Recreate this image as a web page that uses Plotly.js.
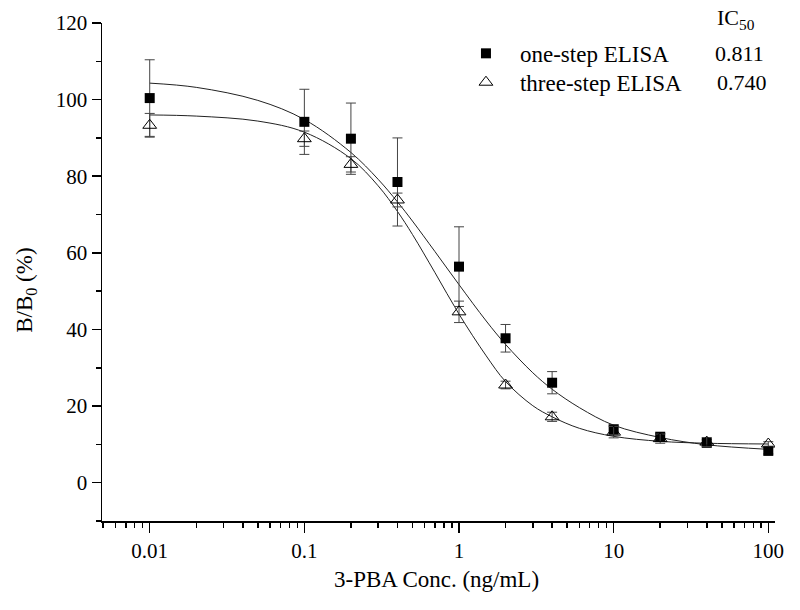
<!DOCTYPE html>
<html>
<head>
<meta charset="utf-8">
<script src="https://cdn.plot.ly/plotly-3.0.1.min.js"></script>
<style>
  html, body { margin: 0; padding: 0; background: #ffffff; }
  #chart { width: 800px; height: 610px; }
</style>
</head>
<body>
<div id="chart"></div>
<script>
// Concentrations (ng/mL)
const conc = [0.01, 0.1, 0.2, 0.4, 1, 2, 4, 10, 20, 40, 100];
// One-step ELISA B/B0 (%) and SD
const oneStep    = [100.4, 94.2, 89.8, 78.5, 56.4, 37.7, 26.1, 13.9, 12.0, 10.4, 8.3];
const oneStepErr = [10.0, 8.5, 9.3, 11.5, 10.4, 3.6, 2.9, 1.2, 0.8, 0.8, 0.8];
// Three-step ELISA B/B0 (%) and SD
const threeStep    = [93.3, 89.8, 83.1, 73.8, 44.6, 25.5, 17.2, 13.2, 11.5, 10.6, 10.1];
const threeStepErr = [3.1, 2.0, 2.0, 1.8, 2.8, 1.0, 1.2, 1.5, 1.2, 1.2, 0.6];
// Fitted curves
const fitX     = [0.01, 0.02, 0.05, 0.1, 0.2, 0.3, 0.4, 0.5, 0.7, 1, 1.5, 2, 3, 4, 6, 10, 20, 40, 100];
const fitOne   = [104.3, 103.2, 99.8, 94.8, 86.2, 79.2, 73.3, 68.3, 60.3, 51.7, 42.2, 36.1, 28.7, 24.4, 19.6, 15.0, 11.8, 9.9, 8.7];
const fitThree = [96.0, 95.7, 94.4, 91.5, 84.6, 77.5, 70.8, 64.8, 54.8, 44.0, 33.1, 26.4, 20.1, 17.2, 14.2, 12.1, 10.8, 10.3, 10.1];
// Labels
const seriesNames = ['one-step ELISA', 'three-step ELISA'];
const ic50Values = ['0.811', '0.740'];
const xTickVals = [0.01, 0.1, 1, 10, 100];
const xTickText = ['0.01', '0.1', '1', '10', '100'];
const yTickVals = [0, 20, 40, 60, 80, 100, 120];

const FONT = 'Liberation Serif, Times New Roman, serif';

const traces = [
  { x: fitX, y: fitOne, mode: 'lines', line: { color: '#222', width: 1, shape: 'spline' }, showlegend: false, hoverinfo: 'skip' },
  { x: fitX, y: fitThree, mode: 'lines', line: { color: '#222', width: 1, shape: 'spline' }, showlegend: false, hoverinfo: 'skip' },
  { x: conc, y: oneStep, name: seriesNames[0], mode: 'markers', legend: 'legend',
    marker: { symbol: 'square', size: 10, color: '#000' },
    error_y: { type: 'data', array: oneStepErr, visible: true, color: '#444', thickness: 1, width: 5 } },
  { x: conc, y: threeStep, name: seriesNames[1], mode: 'markers', legend: 'legend2',
    marker: { symbol: 'triangle-up-open', size: 12, color: '#000', line: { width: 1, color: '#000' } },
    error_y: { type: 'data', array: threeStepErr, visible: true, color: '#444', thickness: 1, width: 5 } }
];

const legendFont = { family: FONT, size: 23, color: '#000' };

const layout = {
  width: 800, height: 610,
  margin: { l: 102, r: 25, t: 23, b: 89 },
  paper_bgcolor: '#ffffff', plot_bgcolor: '#ffffff',
  font: { family: FONT, color: '#000', size: 21 },
  showlegend: true,
  legend: { x: 0.520, y: 0.939, xanchor: 'left', yanchor: 'middle', bgcolor: 'rgba(0,0,0,0)',
            font: legendFont, itemwidth: 58 },
  legend2: { x: 0.520, y: 0.881, xanchor: 'left', yanchor: 'middle', bgcolor: 'rgba(0,0,0,0)',
             font: legendFont, itemwidth: 58 },
  xaxis: {
    type: 'log', range: [-2.3085, 2.0433],
    tickmode: 'array', tickvals: xTickVals, ticktext: xTickText,
    ticks: 'outside', ticklen: 10, tickwidth: 1.5, tickcolor: '#000',
    minor: { dtick: 'D1', ticks: 'outside', ticklen: 5, tickwidth: 1.5, tickcolor: '#000', showgrid: false },
    showline: true, linecolor: '#000', linewidth: 1.5, mirror: false,
    showgrid: false, zeroline: false,
    tickfont: { family: FONT, size: 21, color: '#000' }
  },
  yaxis: {
    range: [-10, 120],
    tickmode: 'array', tickvals: yTickVals,
    ticks: 'outside', ticklen: 9, tickwidth: 1.5, tickcolor: '#000',
    minor: { dtick: 10, tick0: 0, ticks: 'outside', ticklen: 5, tickwidth: 1.5, tickcolor: '#000', showgrid: false },
    showline: true, linecolor: '#000', linewidth: 1.5, mirror: false,
    showgrid: false, zeroline: false,
    tickfont: { family: FONT, size: 21, color: '#000' }
  },
  annotations: [
    { xref: 'paper', yref: 'paper', x: 0.4975, y: -0.1184, xanchor: 'center', yanchor: 'middle', showarrow: false,
      text: '3-PBA Conc. (ng/mL)', font: { family: FONT, size: 23, color: '#000' } },
    { xref: 'paper', yref: 'paper', x: -0.112, y: 0.4636, xanchor: 'center', yanchor: 'middle', showarrow: false,
      textangle: -90, text: 'B/B<sub>0</sub> (%)', font: { family: FONT, size: 23, color: '#000' } },
    { xref: 'paper', yref: 'paper', x: 0.9108, y: 1.008, xanchor: 'left', yanchor: 'middle', showarrow: false,
      text: 'IC<sub>50</sub>', font: { family: FONT, size: 22, color: '#000' } },
    { xref: 'paper', yref: 'paper', x: 0.9075, y: 0.9392, xanchor: 'left', yanchor: 'middle', showarrow: false,
      text: ic50Values[0], font: { family: FONT, size: 22, color: '#000' } },
    { xref: 'paper', yref: 'paper', x: 0.9110, y: 0.881, xanchor: 'left', yanchor: 'middle', showarrow: false,
      text: ic50Values[1], font: { family: FONT, size: 22, color: '#000' } }
  ]
};

Plotly.newPlot('chart', traces, layout, { displayModeBar: false, staticPlot: true });
</script>
</body>
</html>
